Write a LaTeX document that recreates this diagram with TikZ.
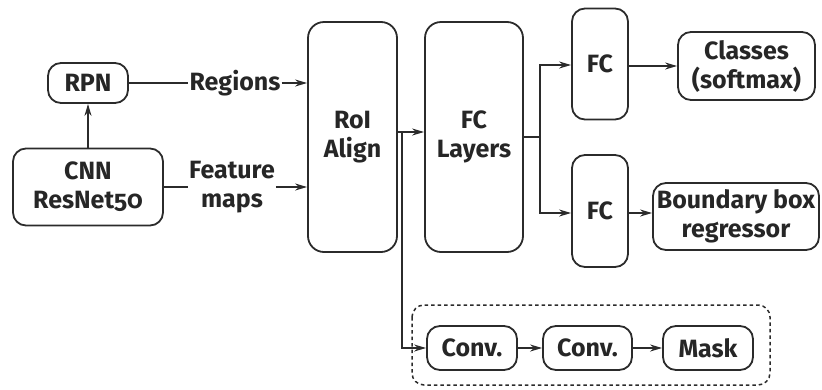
\documentclass[tikz,border=0pt]{standalone}
\usepackage{fontspec}
\setmainfont{Fira Sans}[Numbers=OldStyle]
\usetikzlibrary{arrows.meta}
\definecolor{ink}{HTML}{2B2B2B}
\begin{document}
\begin{tikzpicture}[x=1pt,y=-1pt,
  every node/.style={font=\fontsize{25}{29}\selectfont\bfseries, text=black!85, align=center, inner sep=0pt},
  blk/.style={draw=ink, line width=1.8pt, rounded corners=13pt},
  conn/.style={draw=ink, line width=1.8pt},
  arr/.style={conn, -{Stealth[length=12pt,width=7pt]}},
  lbl/.style={fill=white, inner sep=1pt}]
\useasboundingbox (0,0) rectangle (822,389);

% backbone and proposal network
\node[blk, minimum width=80pt, minimum height=40pt] (rpn) at (88,83) {RPN};
\node[blk, minimum width=150pt, minimum height=77pt] (cnn) at (88,187) {CNN\\ResNet50};

% RoI align and fully connected stage
\node[blk, minimum width=89pt, minimum height=230pt, rounded corners=16pt] (roi) at (352.5,137) {RoI\\Align};
\node[blk, minimum width=98pt, minimum height=230pt, rounded corners=16pt] (fcl) at (474,137) {FC\\Layers};

% heads
\node[blk, minimum width=56pt, minimum height=111pt] (fc1) at (600,64) {FC};
\node[blk, minimum width=56pt, minimum height=112pt] (fc2) at (600,211) {FC};
\node[blk, minimum width=137pt, minimum height=68pt] (cls) at (746.5,66) {Classes\\(softmax)};
\node[blk, minimum width=166pt, minimum height=67pt] (bbox) at (736,216.5) {Boundary box\\regressor};

% mask branch
\draw[ink, line width=1.5pt, dash pattern=on 3.5pt off 3pt, rounded corners=12pt] (412,305) rectangle (770,385);
\node[blk, minimum width=90pt, minimum height=44pt] (conv1) at (472,348) {Conv.};
\node[blk, minimum width=89pt, minimum height=44pt] (conv2) at (587.5,348) {Conv.};
\node[blk, minimum width=90pt, minimum height=44pt] (mask) at (708,348) {Mask};

% edge labels
\node[lbl] (regions) at (235,83) {Regions};
\node[lbl] (feat) at (232,187) {Feature\\maps};

% connections
\draw[arr] (cnn.north) -- (rpn.south);
\draw[conn] (rpn.east) -- (regions.west);
\draw[arr] (regions.east) -- (roi.west |- regions.east);
\draw[conn] (cnn.east) -- (feat.west);
\draw[arr] (feat.east) -- (roi.west |- feat.east);

\coordinate (split) at (402,132);
\draw[arr] (roi.east |- split) -- (fcl.west |- split);
\draw[arr] (split) |- (conv1.west);

\coordinate (fork) at (540,137);
\draw[conn] (fcl.east |- fork) -- (fork);
\draw[arr] (fork) |- (fc1.west |- 0,65);
\draw[arr] (fork) |- (fc2.west |- 0,213);
\draw[arr] (fc1.east |- cls.west) -- (cls.west);
\draw[arr] (fc2.east |- 0,213) -- (bbox.west |- 0,213);

\draw[arr] (conv1.east) -- (conv2.west);
\draw[arr] (conv2.east) -- (mask.west);
\end{tikzpicture}
\end{document}
